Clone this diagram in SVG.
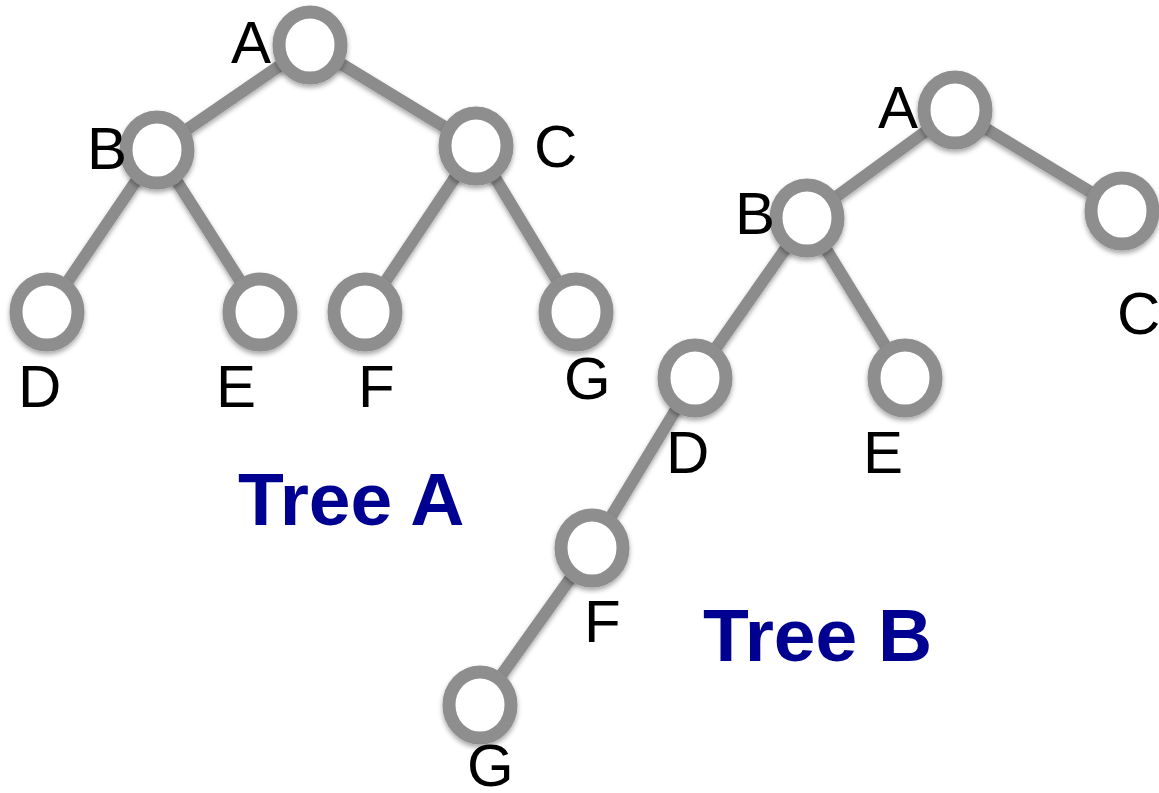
<svg xmlns="http://www.w3.org/2000/svg" width="1159" height="793" viewBox="0 0 1159 793">
  <defs>
    <filter id="shadow" x="-30%" y="-30%" width="160%" height="170%">
      <feDropShadow dx="0" dy="3" stdDeviation="2.5" flood-color="#000" flood-opacity="0.35"/>
    </filter>
    <style>
      .edge { stroke: #8c8c8c; stroke-width: 12; stroke-linecap: butt; fill: none; }
      .node ellipse { fill: #fff; stroke: #8e8e8e; stroke-width: 13; }
      .label { font-family: "Liberation Sans", Arial, sans-serif; font-size: 60px; fill: #000; }
      .title { font-family: "Liberation Sans", Arial, sans-serif; font-size: 75px; font-weight: bold; fill: #000091; }
    </style>
  </defs>
  <rect width="1159" height="793" fill="#fff"/>

  <!-- connectors for both trees -->
  <g id="edges" filter="url(#shadow)">
    <line class="edge" x1="310" y1="45" x2="157" y2="150"/>
    <line class="edge" x1="310" y1="45" x2="476" y2="146"/>
    <line class="edge" x1="157" y1="150" x2="47" y2="312"/>
    <line class="edge" x1="157" y1="150" x2="260" y2="312"/>
    <line class="edge" x1="476" y1="146" x2="365" y2="312"/>
    <line class="edge" x1="476" y1="146" x2="576" y2="312"/>
    <line class="edge" x1="955" y1="110" x2="807" y2="218"/>
    <line class="edge" x1="955" y1="110" x2="1122" y2="211"/>
    <line class="edge" x1="807" y1="218" x2="695" y2="378"/>
    <line class="edge" x1="807" y1="218" x2="905" y2="378"/>
    <line class="edge" x1="695" y1="378" x2="592" y2="548"/>
    <line class="edge" x1="592" y1="548" x2="480" y2="705"/>
  </g>

  <!-- Tree A -->
  <g id="treeA-A" class="node"><ellipse cx="310" cy="45" rx="31" ry="33" filter="url(#shadow)"/><text class="label" x="231" y="63">A</text></g>
  <g id="treeA-B" class="node"><ellipse cx="157" cy="150" rx="31" ry="33" filter="url(#shadow)"/><text class="label" x="87" y="169">B</text></g>
  <g id="treeA-C" class="node"><ellipse cx="476" cy="146" rx="31" ry="33" filter="url(#shadow)"/><text class="label" x="534" y="167">C</text></g>
  <g id="treeA-D" class="node"><ellipse cx="47" cy="312" rx="31" ry="33" filter="url(#shadow)"/><text class="label" x="18" y="407">D</text></g>
  <g id="treeA-E" class="node"><ellipse cx="260" cy="312" rx="31" ry="33" filter="url(#shadow)"/><text class="label" x="216" y="407">E</text></g>
  <g id="treeA-F" class="node"><ellipse cx="365" cy="312" rx="31" ry="33" filter="url(#shadow)"/><text class="label" x="358" y="407">F</text></g>
  <g id="treeA-G" class="node"><ellipse cx="576" cy="312" rx="31" ry="33" filter="url(#shadow)"/><text class="label" x="564" y="399">G</text></g>
  <text id="title-A" class="title" x="238" y="525">Tree A</text>

  <!-- Tree B -->
  <g id="treeB-A" class="node"><ellipse cx="955" cy="110" rx="31" ry="33" filter="url(#shadow)"/><text class="label" x="878" y="128">A</text></g>
  <g id="treeB-B" class="node"><ellipse cx="807" cy="218" rx="31" ry="33" filter="url(#shadow)"/><text class="label" x="735" y="234">B</text></g>
  <g id="treeB-C" class="node"><ellipse cx="1122" cy="211" rx="31" ry="33" filter="url(#shadow)"/><text class="label" x="1117" y="334">C</text></g>
  <g id="treeB-D" class="node"><ellipse cx="695" cy="378" rx="31" ry="33" filter="url(#shadow)"/><text class="label" x="666" y="473">D</text></g>
  <g id="treeB-E" class="node"><ellipse cx="905" cy="378" rx="31" ry="33" filter="url(#shadow)"/><text class="label" x="863" y="473">E</text></g>
  <g id="treeB-F" class="node"><ellipse cx="592" cy="548" rx="31" ry="33" filter="url(#shadow)"/><text class="label" x="584" y="642">F</text></g>
  <g id="treeB-G" class="node"><ellipse cx="480" cy="705" rx="31" ry="33" filter="url(#shadow)"/><text class="label" x="467" y="786">G</text></g>
  <text id="title-B" class="title" x="703" y="661">Tree B</text>
</svg>
